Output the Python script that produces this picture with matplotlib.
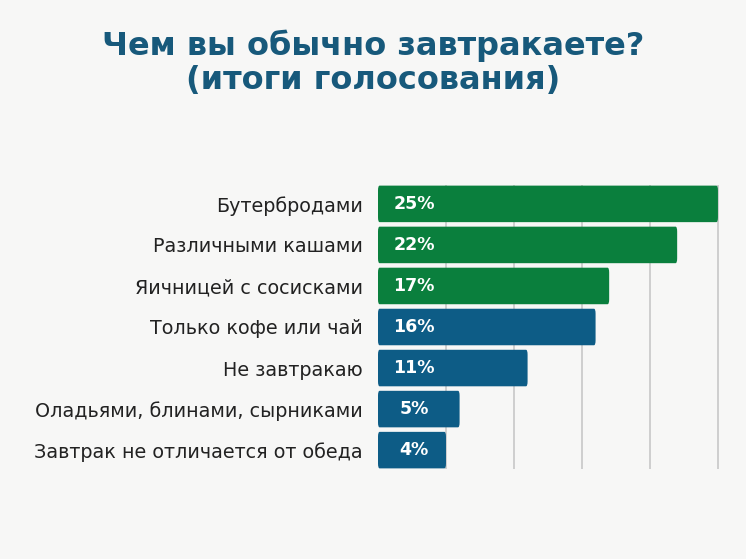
import matplotlib
matplotlib.use("Agg")
import matplotlib.pyplot as plt
from matplotlib.patches import FancyBboxPatch

categories = ["Бутербродами", "Различными кашами", "Яичницей с сосисками",
              "Только кофе или чай", "Не завтракаю", "Оладьями, блинами, сырниками",
              "Завтрак не отличается от обеда"]
bar_lengths = [25, 22, 17, 16, 11, 6, 5]
value_labels = ["25%", "22%", "17%", "16%", "11%", "5%", "4%"]
bar_colors = ["#0a7f3d", "#0a7f3d", "#0a7f3d", "#0d5c86", "#0d5c86", "#0d5c86", "#0d5c86"]
grid_ticks = [5, 10, 15, 20, 25]

BG = "#f7f7f6"
fig = plt.figure(figsize=(7.46, 5.59), dpi=100, facecolor=BG)
ax = fig.add_axes([378/746, 1-469/559, (720-378)/746, (469-185)/559])
ax.set_facecolor(BG)

n = len(categories)
ys = list(range(n))
ax.set_xlim(0, 25.15)
ax.set_ylim(n - 0.5 - 0.04, -0.5 + 0.04)
for x in grid_ticks:
    ax.axvline(x, color="#c8c8c8", lw=1.2, zorder=0)

h = 0.89
for y, L, c, lab in zip(ys, bar_lengths, bar_colors, value_labels):
    p = FancyBboxPatch((0, y - h/2), L, h,
                       boxstyle="round,pad=0,rounding_size=0.12",
                       fc=c, ec="none", zorder=2)
    ax.add_patch(p)
    ax.text(2.65, y, lab, color="white", fontsize=12.5, fontweight="bold",
            va="center", ha="center", family="DejaVu Sans", zorder=3)

ax.set_yticks(ys)
ax.set_yticklabels(categories, fontsize=13.8, family="DejaVu Sans", color="#222222")
ax.tick_params(axis="y", length=0, pad=11)
ax.set_xticks([])
for s in ax.spines.values():
    s.set_visible(False)

fig.text(0.5, 1-46/559, "Чем вы обычно завтракаете?", ha="center", va="center",
         fontsize=23, fontweight="bold", color="#17597b", family="DejaVu Sans")
fig.text(0.5, 1-80/559, "(итоги голосования)", ha="center", va="center",
         fontsize=23, fontweight="bold", color="#17597b", family="DejaVu Sans")

fig.savefig("out.png", dpi=100, facecolor=BG)
